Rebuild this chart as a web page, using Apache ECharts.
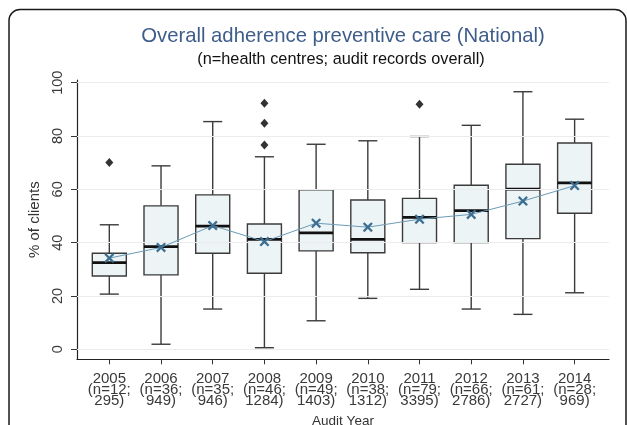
<!DOCTYPE html>
<html>
<head>
<meta charset="utf-8">
<title>Overall adherence preventive care (National)</title>
<script src="https://cdn.jsdelivr.net/npm/echarts@6/dist/echarts.min.js"></script>
<style>
  html, body { margin: 0; padding: 0; background: #ffffff; }
  #chart { width: 627px; height: 425px; }
</style>
</head>
<body>
<div id="chart"></div>
<script>
// Audit years and sample sizes (health centres; audit records)
const years = ['2005', '2006', '2007', '2008', '2009', '2010', '2011', '2012', '2013', '2014'];
const nCentres = [12, 36, 35, 46, 49, 38, 79, 66, 61, 28];
const nRecords = [295, 949, 946, 1284, 1403, 1312, 3395, 2786, 2727, 969];

// Box plot statistics per year (% of clients)
const lowerWhisker = [20.7, 1.9, 15.1, 0.6, 10.7, 19.1, 22.5, 15.1, 13.1, 21.2];
const quartile1    = [27.5, 27.9, 36.0, 28.5, 36.9, 36.2, 40.0, 40.0, 41.5, 51.0];
const medians      = [32.5, 38.5, 46.2, 41.2, 43.7, 41.2, 49.5, 52.0, 60.1, 62.4];
const quartile3    = [36.0, 53.8, 57.9, 47.0, 59.8, 56.0, 56.6, 61.5, 69.4, 77.4];
const upperWhisker = [46.7, 68.8, 85.4, 72.2, 76.9, 78.2, 79.8, 84.0, 96.6, 86.3];

// Mean adherence per year
const means = [34.2, 38.2, 46.4, 40.4, 47.3, 45.8, 48.8, 50.6, 55.6, 61.4];

// Outlying health centres: [year index, value]
const outlierYearIdx = [0, 3, 3, 3, 6];
const outlierValues  = [70.1, 92.3, 84.8, 76.6, 91.9];

const yTicks = [0, 20, 40, 60, 80, 100];

// positions on the x axis: 1..n
const xPos = years.map((_, i) => i + 1);

const boxData = xPos.map((x, i) => [x, lowerWhisker[i], quartile1[i], medians[i], quartile3[i], upperWhisker[i]]);
const meanData = xPos.map((x, i) => [x, means[i]]);
const outlierData = outlierValues.map((v, k) => [xPos[outlierYearIdx[k]], v]);

const BOX_HALF = 0.329;   // half box width in axis units
const CAP_HALF = 0.184;   // half whisker-cap width in axis units

const FONT = '"Liberation Sans", Arial, sans-serif';

const chart = echarts.init(document.getElementById('chart'), null, { renderer: 'canvas' });

chart.setOption({
  animation: false,
  backgroundColor: '#ffffff',
  grid: {
    left: 77, right: 18, top: 80, bottom: 65.7,
    containLabel: false,
    outerBoundsMode: 'none'
  },
  graphic: [
    {
      type: 'rect', z: 0, silent: true,
      shape: { x: 9, y: 9.5, width: 617, height: 440, r: 11 },
      style: { fill: null, stroke: '#1a1a1a', lineWidth: 1.5 }
    },
    {
      type: 'text', z: 10, silent: true,
      x: 343, y: 36,
      style: {
        text: 'Overall adherence preventive care (National)',
        fill: '#3f5d8a', font: '20.3px ' + FONT,
        align: 'center', verticalAlign: 'middle'
      }
    },
    {
      type: 'text', z: 10, silent: true,
      x: 341, y: 60,
      style: {
        text: '(n=health centres; audit records overall)',
        fill: '#111111', font: '16.3px ' + FONT,
        align: 'center', verticalAlign: 'middle'
      }
    }
  ],
  xAxis: {
    type: 'value',
    min: 0.375,
    max: 10.665,
    name: 'Audit Year',
    nameLocation: 'middle',
    nameGap: 55,
    nameTextStyle: { color: '#333333', fontSize: 13.5, fontFamily: FONT },
    axisLine: { show: true, onZero: false, lineStyle: { color: '#222222', width: 1.2 } },
    axisTick: { show: true, length: 5, customValues: xPos, lineStyle: { color: '#333333' } },
    axisLabel: {
      customValues: xPos,
      margin: 14,
      color: '#3a3a3a',
      fontSize: 15,
      lineHeight: 11,
      fontFamily: FONT,
      formatter: v => {
        const i = Math.round(v) - 1;
        return years[i] + '\n(n=' + nCentres[i] + ';\n' + nRecords[i] + ')';
      }
    },
    splitLine: { show: false }
  },
  yAxis: {
    type: 'value',
    min: -3.75,
    max: 101,
    name: '% of clients',
    nameLocation: 'middle',
    nameGap: 29,
    nameTextStyle: { color: '#333333', fontSize: 15, fontFamily: FONT },
    axisLine: { show: true, onZero: false, lineStyle: { color: '#222222', width: 1.2 } },
    axisTick: { show: true, length: 6, customValues: yTicks, lineStyle: { color: '#333333' } },
    axisLabel: {
      customValues: yTicks,
      rotate: 90,
      margin: 12,
      color: '#3a3a3a',
      fontSize: 14.5,
      fontFamily: FONT
    },
    splitLine: { show: false }
  },
  series: [
    {
      // faint horizontal grid lines at the labelled ticks
      type: 'line',
      data: [],
      silent: true,
      markLine: {
        silent: true,
        symbol: 'none',
        label: { show: false },
        lineStyle: { color: '#ececec', width: 1, type: 'solid' },
        data: yTicks.map(t => ({ yAxis: t }))
      }
    },
    {
      type: 'custom',
      name: 'Adherence',
      data: boxData,
      encode: { x: 0, y: [1, 2, 3, 4, 5] },
      z: 3,
      renderItem: (params, api) => {
        const x = api.value(0);
        const pLow = api.coord([x, api.value(1)]);
        const pQ1 = api.coord([x, api.value(2)]);
        const pMed = api.coord([x, api.value(3)]);
        const pQ3 = api.coord([x, api.value(4)]);
        const pHigh = api.coord([x, api.value(5)]);
        const left = api.coord([x - BOX_HALF, 0])[0];
        const right = api.coord([x + BOX_HALF, 0])[0];
        const capL = api.coord([x - CAP_HALF, 0])[0];
        const capR = api.coord([x + CAP_HALF, 0])[0];
        const stroke = { stroke: '#3b3b3b', lineWidth: 1.4 };
        return {
          type: 'group',
          children: [
            { type: 'line', shape: { x1: pQ3[0], y1: pQ3[1], x2: pHigh[0], y2: pHigh[1] }, style: stroke },
            { type: 'line', shape: { x1: pQ1[0], y1: pQ1[1], x2: pLow[0], y2: pLow[1] }, style: stroke },
            { type: 'line', shape: { x1: capL, y1: pHigh[1], x2: capR, y2: pHigh[1] }, style: stroke },
            { type: 'line', shape: { x1: capL, y1: pLow[1], x2: capR, y2: pLow[1] }, style: stroke },
            {
              type: 'rect',
              shape: { x: left, y: pQ3[1], width: right - left, height: pQ1[1] - pQ3[1] },
              style: { fill: '#edf4f6', stroke: '#3b3b3b', lineWidth: 1.4 }
            },
            { type: 'line', shape: { x1: left, y1: pMed[1], x2: right, y2: pMed[1] }, style: { stroke: '#111111', lineWidth: 2.8 } }
          ]
        };
      }
    },
    {
      type: 'line',
      name: 'Mean',
      data: meanData,
      z: 5,
      symbol: 'path://M0,1.6L1.6,0L5,3.4L8.4,0L10,1.6L6.6,5L10,8.4L8.4,10L5,6.6L1.6,10L0,8.4L3.4,5Z',
      symbolSize: 10,
      itemStyle: { color: '#3d6f93' },
      lineStyle: { color: '#6c9bb6', width: 1 }
    },
    {
      type: 'scatter',
      name: 'Outliers',
      data: outlierData,
      z: 4,
      symbol: 'diamond',
      symbolSize: [8, 9],
      itemStyle: { color: '#000000' }
    }
  ]
});
</script>
</body>
</html>
